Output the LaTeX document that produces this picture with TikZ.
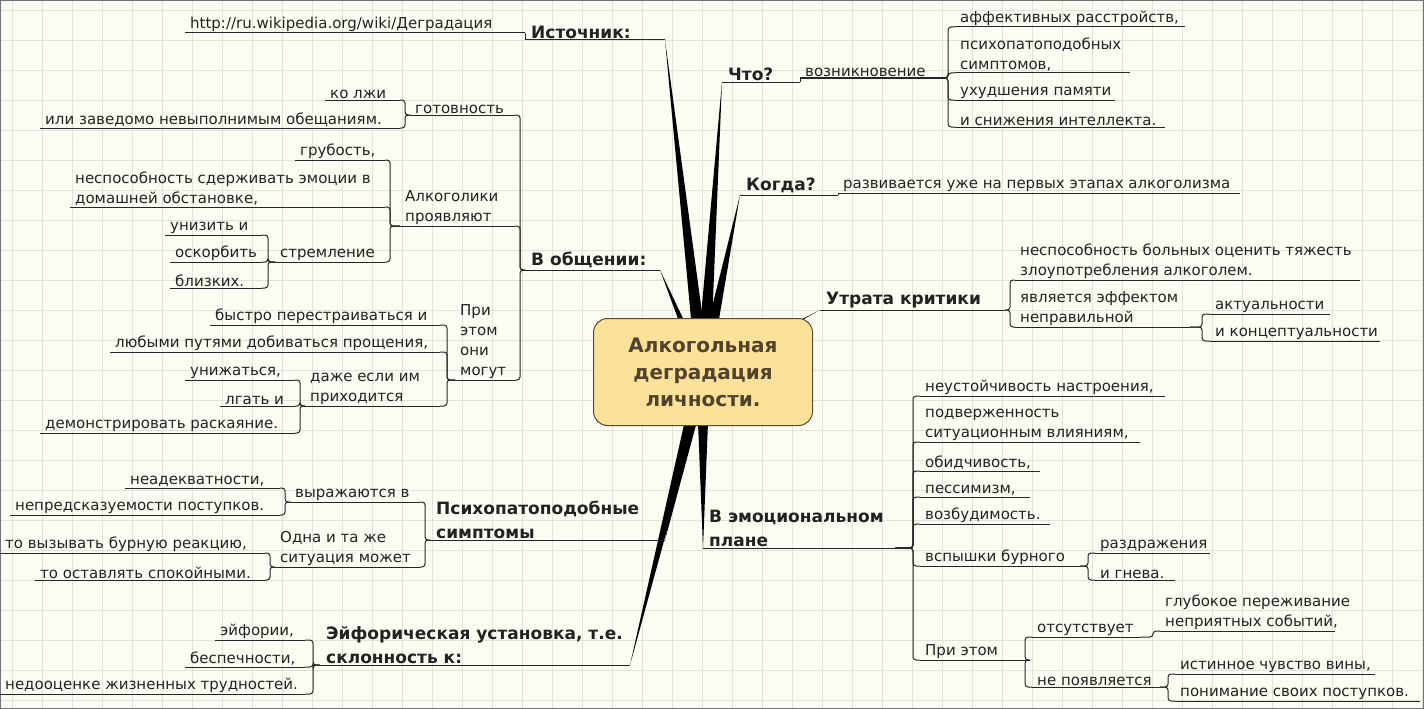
\documentclass[tikz,border=0pt]{standalone}
\usepackage{fontspec}
\setmainfont{DejaVu Sans}
\usetikzlibrary{calc}
\definecolor{bg}{HTML}{FDFCF3}
\definecolor{gridc}{HTML}{E2E2DA}
\definecolor{boxf}{HTML}{FCE19B}
\definecolor{boxd}{HTML}{5A4A30}
\definecolor{txt}{HTML}{222222}
\tikzset{
 leaf/.style={font=\fontsize{15}{20}\selectfont, text=txt, align=left, inner xsep=5pt, inner ysep=1.2pt},
 main/.style={font=\fontsize{17}{24}\selectfont\bfseries, text=txt, align=left, inner xsep=6pt, inner ysep=1.5pt},
 ulline/.style={line width=1pt, draw=black!85},
 conn/.style={line width=1pt, draw=black!85, rounded corners=3pt},
 wedge/.style={fill=black},
}
\newcommand\mn[6]{\coordinate (#1-l) at (#2,#4); \coordinate (#1-r) at (#3,#4);
 \node[#5,anchor=south west] (#1) at (#2,#4) {#6}; \draw[ulline] (#1-l) -- (#1-r);}
\newcommand\rc[3]{\draw[conn] (#1-l) -- ++(-#3,0) |- (#2-r);}
\newcommand\lc[3]{\draw[conn] (#1-r) -- ++(#3,0) |- (#2-l);}
\newcommand\wg[2]{\fill[wedge] (#1) -- ($(C)!#2!90:(#1)$) -- ($(C)!#2!-90:(#1)$) -- cycle;}
\begin{document}
\begin{tikzpicture}[x=1pt,y=-1pt]
\useasboundingbox (0,0) rectangle (1424,709);
\fill[bg] (0,0) rectangle (1424,709);
\foreach \x in {12,42,...,1422} \draw[gridc,line width=0.8pt] (\x,0) -- (\x,709);
\foreach \y in {10,40,...,700} \draw[gridc,line width=0.8pt] (0,\y) -- (1424,\y);
\draw[black!55,line width=1.5pt] (0,0) rectangle (1424,709);
\coordinate (C) at (703,372);
% top-left
\mn{link}{185}{525}{33}{leaf}{http://ru.wikipedia.org/wiki/Деградация}
\mn{src}{525}{665}{40}{main}{Источник:}
\draw[conn] (link-r) -- (src-l);
% what
\mn{what}{722}{800}{82}{main}{Что?}
\mn{voz}{800}{935}{78}{leaf}{возникновение}
\draw[ulline] (what-r) -- (voz-l);
\mn{aff}{955}{1185}{27}{leaf}{аффективных расстройств,}
\mn{psym}{955}{1130}{73}{leaf}{психопатоподобных\\симптомов,}
\mn{mem}{955}{1115}{100}{leaf}{ухудшения памяти}
\mn{intl}{955}{1165}{127}{leaf}{и снижения интеллекта.}
\rc{aff}{voz}{7}\rc{psym}{voz}{7}\rc{mem}{voz}{7}\rc{intl}{voz}{7}
% when
\mn{when}{740}{838}{195}{main}{Когда?}
\mn{whena}{838}{1240}{193}{leaf}{развивается уже на первых этапах алкоголизма}
\draw[ulline] (when-r) -- (whena-l);
% crit
\mn{crit}{820}{1005}{310}{main}{Утрата критики}
\mn{cra}{1015}{1360}{280}{leaf}{неспособность больных оценить тяжесть\\злоупотребления алкоголем.}
\mn{crb}{1015}{1190}{327}{leaf}{является эффектом\\неправильной}
\mn{crba}{1210}{1330}{314}{leaf}{актуальности}
\mn{crbb}{1210}{1380}{341}{leaf}{и концептуальности}
\rc{cra}{crit}{5}\rc{crb}{crit}{5}\rc{crba}{crb}{8}\rc{crbb}{crb}{8}
% emo
\mn{emo}{703}{895}{548}{main}{В эмоциональном\\плане}
\mn{ea}{920}{1165}{396}{leaf}{неустойчивость настроения,}
\mn{eb}{920}{1140}{442}{leaf}{подверженность\\ситуационным влияниям,}
\mn{ec}{920}{1040}{471}{leaf}{обидчивость,}
\mn{ed}{920}{1030}{497}{leaf}{пессимизм,}
\mn{ee}{920}{1050}{524}{leaf}{возбудимость.}
\mn{ef}{920}{1080}{566}{leaf}{вспышки бурного}
\mn{eg}{920}{1030}{660}{leaf}{При этом}
\foreach \n in {ea,eb,ec,ed,ee,ef,eg} {\rc{\n}{emo}{7}}
\mn{efa}{1095}{1210}{553}{leaf}{раздражения}
\mn{efb}{1095}{1175}{580}{leaf}{и гнева.}
\rc{efa}{ef}{7}\rc{efb}{ef}{7}
\mn{ega}{1032}{1140}{637}{leaf}{отсутствует}
\mn{egb}{1032}{1160}{687}{leaf}{не появляется}
\rc{ega}{eg}{7}\rc{egb}{eg}{7}
\mn{egaa}{1160}{1335}{631}{leaf}{глубокое переживание\\неприятных событий,}
\rc{egaa}{ega}{7}
\mn{egba}{1175}{1375}{674}{leaf}{истинное чувство вины,}
\mn{egbb}{1175}{1420}{701}{leaf}{понимание своих поступков.}
\rc{egba}{egb}{7}\rc{egbb}{egb}{7}
% communication
\mn{comm}{525}{660}{270}{main}{В общении:}
\mn{got}{410}{515}{115}{leaf}{готовность}
\mn{alc}{400}{515}{226}{leaf}{Алкоголики\\проявляют}
\mn{pri}{455}{515}{380}{leaf}{При\\этом\\они\\могут}
\lc{got}{comm}{5}\lc{alc}{comm}{5}\lc{pri}{comm}{5}
\mn{lie}{325}{400}{100}{leaf}{ко лжи}
\mn{prom}{40}{400}{128}{leaf}{или заведомо невыполнимым обещаниям.}
\lc{lie}{got}{5}\lc{prom}{got}{5}
\mn{grub}{295}{385}{160}{leaf}{грубость,}
\mn{nesp}{70}{385}{207}{leaf}{неспособность сдерживать эмоции в\\домашней обстановке,}
\mn{strem}{275}{385}{262}{leaf}{стремление}
\lc{grub}{alc}{5}\lc{nesp}{alc}{5}\lc{strem}{alc}{5}
\mn{uniz}{165}{262}{235}{leaf}{унизить и}
\mn{osk}{170}{262}{262}{leaf}{оскорбить}
\mn{bliz}{170}{262}{288}{leaf}{близких.}
\lc{uniz}{strem}{6}\lc{osk}{strem}{6}\lc{bliz}{strem}{6}
\mn{bys}{210}{440}{325}{leaf}{быстро перестраиваться и}
\mn{lub}{110}{440}{352}{leaf}{любыми путями добиваться прощения,}
\mn{dazh}{305}{440}{406}{leaf}{даже если им\\приходится}
\lc{bys}{pri}{7}\lc{lub}{pri}{7}\lc{dazh}{pri}{7}
\mn{unzh}{185}{295}{380}{leaf}{унижаться,}
\mn{lga}{220}{295}{406}{leaf}{лгать и}
\mn{dem}{40}{295}{433}{leaf}{демонстрировать раскаяние.}
\lc{unzh}{dazh}{5}\lc{lga}{dazh}{5}\lc{dem}{dazh}{5}
% psychopathic
\mn{psy}{430}{665}{540}{main}{Психопатоподобные\\симптомы}
\mn{vyr}{290}{420}{502}{leaf}{выражаются в}
\mn{odna}{275}{420}{567}{leaf}{Одна и та же\\ситуация может}
\lc{vyr}{psy}{5}\lc{odna}{psy}{5}
\mn{nead}{125}{280}{488}{leaf}{неадекватности,}
\mn{nepr}{10}{280}{515}{leaf}{непредсказуемости поступков.}
\lc{nead}{vyr}{5}\lc{nepr}{vyr}{5}
\mn{tov}{0}{265}{553}{leaf}{то вызывать бурную реакцию,}
\mn{toos}{35}{265}{580}{leaf}{то оставлять спокойными.}
\lc{tov}{odna}{5}\lc{toos}{odna}{5}
% euphoric
\mn{eu}{320}{630}{665}{main}{Эйфорическая установка, т.е.\\склонность к:}
\mn{eua}{215}{305}{640}{leaf}{эйфории,}
\mn{eub}{185}{305}{667}{leaf}{беспечности,}
\mn{euc}{0}{305}{694}{leaf}{недооценке жизненных трудностей.}
\lc{eua}{eu}{8}\lc{eub}{eu}{8}\lc{euc}{eu}{8}
% wedges
\wg{src-r}{7pt}\wg{what-l}{7pt}\wg{when-l}{7pt}\wg{crit-l}{3pt}
\wg{emo-l}{7pt}\wg{comm-r}{5pt}\wg{psy-r}{7pt}\wg{eu-r}{7pt}
% center
\node[draw=boxd, fill=boxf, line width=1pt, rounded corners=14pt, minimum width=219pt, minimum height=107pt,
 font=\fontsize{20}{27}\selectfont\bfseries, text=boxd!90!black, align=center] (center) at (C) {Алкогольная\\деградация\\личности.};
\end{tikzpicture}
\end{document}
